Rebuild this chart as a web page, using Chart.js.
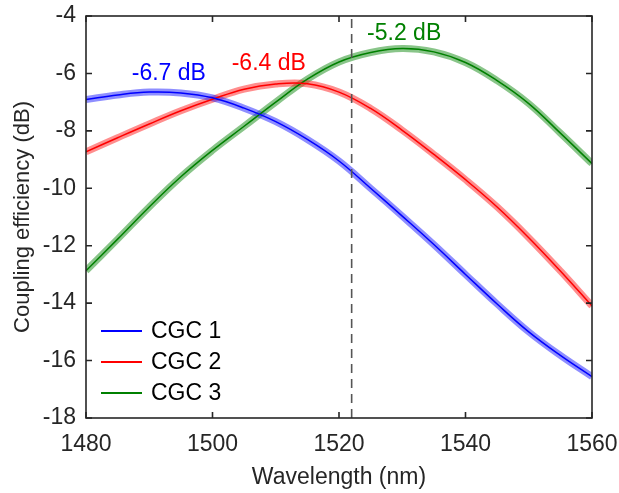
<!DOCTYPE html>
<html>
<head>
<meta charset="utf-8">
<script src="https://cdn.jsdelivr.net/npm/chart.js@4.4.1/dist/chart.umd.min.js"></script>
<style>
  html, body { margin: 0; padding: 0; background: #fff; }
  #wrap { width: 619px; height: 493px; position: relative; }
</style>
</head>
<body>
<div id="wrap"><canvas id="myChart"></canvas></div>
<script>
// values
const wavelength = [1480, 1485, 1490, 1495, 1500, 1505, 1510, 1515, 1520, 1525, 1530, 1535, 1540, 1545, 1550, 1555, 1560];
const cgc1 = [-6.91, -6.75, -6.65, -6.68, -6.85, -7.21, -7.68, -8.30, -9.05, -10.00, -10.97, -11.96, -13.00, -14.03, -15.00, -15.82, -16.56];
const cgc2 = [-8.73, -8.24, -7.76, -7.30, -6.90, -6.55, -6.37, -6.36, -6.65, -7.22, -7.98, -8.82, -9.70, -10.65, -11.72, -12.88, -14.10];
const cgc3 = [-12.87, -11.77, -10.65, -9.60, -8.68, -7.84, -7.00, -6.20, -5.60, -5.27, -5.13, -5.25, -5.62, -6.25, -7.05, -8.08, -9.14];
const seriesLabels = ['CGC 1', 'CGC 2', 'CGC 3'];
const peakLabels = ['-6.7 dB', '-6.4 dB', '-5.2 dB'];
const peakLabelWl = [1493.1, 1508.9, 1530.3];
const peakLabelDb = [-6.02, -5.67, -4.63];
const markerWl = 1522;
const yRange = [-18, -4];
const xRange = [1480, 1560];

(() => {
  'use strict'

  const FONT = "'Liberation Sans', Arial, sans-serif";
  const lineColors = ['#0000ff', '#ff0000', '#008000'];
  const bandColors = ['rgba(30,30,255,0.5)', 'rgba(255,30,30,0.5)', 'rgba(20,140,20,0.5)'];
  const series = [cgc1, cgc2, cgc3];

  const toPoints = vals => wavelength.map((w, i) => ({ x: w, y: vals[i] }));

  const datasets = [];
  // vertical dashed marker
  datasets.push({
    label: 'marker',
    data: [{ x: markerWl, y: yRange[0] }, { x: markerWl, y: yRange[1] }],
    borderColor: '#555555',
    borderWidth: 1.6,
    borderDash: [9, 6],
    pointRadius: 0,
    tension: 0,
    order: 0
  });
  // fitted lines
  series.forEach((s, i) => {
    datasets.push({
      label: seriesLabels[i],
      data: toPoints(s),
      borderColor: lineColors[i],
      borderWidth: 1.5,
      pointRadius: 0,
      tension: 0.4,
      order: 1
    });
  });
  // measured bands (wide, translucent)
  series.forEach((s, i) => {
    datasets.push({
      label: seriesLabels[i] + ' meas',
      data: toPoints(s),
      borderColor: bandColors[i],
      borderWidth: 7,
      pointRadius: 0,
      tension: 0.4,
      order: 2
    });
  });

  const boxPlugin = {
    id: 'box',
    afterDatasetsDraw(chart) {
      const { ctx, chartArea: a, scales: { x, y } } = chart;
      ctx.save();
      ctx.strokeStyle = '#262626';
      ctx.lineWidth = 1.6;
      ctx.strokeRect(a.left, a.top, a.right - a.left, a.bottom - a.top);
      ctx.beginPath();
      x.ticks.forEach(t => {
        const px = x.getPixelForValue(t.value);
        ctx.moveTo(px, a.bottom); ctx.lineTo(px, a.bottom - 6);
        ctx.moveTo(px, a.top); ctx.lineTo(px, a.top + 6);
      });
      y.ticks.forEach(t => {
        const py = y.getPixelForValue(t.value);
        ctx.moveTo(a.left, py); ctx.lineTo(a.left + 6, py);
        ctx.moveTo(a.right, py); ctx.lineTo(a.right - 6, py);
      });
      ctx.stroke();

      // peak annotations
      ctx.font = '23px ' + FONT;
      ctx.textAlign = 'center';
      ctx.textBaseline = 'middle';
      peakLabels.forEach((txt, i) => {
        ctx.fillStyle = lineColors[i];
        ctx.fillText(txt, x.getPixelForValue(peakLabelWl[i]), y.getPixelForValue(peakLabelDb[i]));
      });

      // legend
      ctx.textAlign = 'left';
      seriesLabels.forEach((txt, i) => {
        const ly = a.bottom - 87 + i * 31;
        ctx.strokeStyle = lineColors[i];
        ctx.lineWidth = 2.2;
        ctx.beginPath();
        ctx.moveTo(a.left + 15, ly);
        ctx.lineTo(a.left + 56, ly);
        ctx.stroke();
        ctx.fillStyle = '#000';
        ctx.fillText(txt, a.left + 65, ly + 1);
      });
      ctx.restore();
    }
  };

  const ctx = document.getElementById('myChart');
  new Chart(ctx, {
    type: 'line',
    data: { datasets },
    plugins: [boxPlugin],
    options: {
      responsive: true,
      maintainAspectRatio: false,
      animation: false,
      layout: { padding: { top: 16, right: 27, left: 0, bottom: 0 } },
      plugins: {
        legend: { display: false },
        tooltip: { enabled: false }
      },
      scales: {
        x: {
          type: 'linear',
          min: xRange[0],
          max: xRange[1],
          grid: { display: false, drawTicks: false },
          border: { display: false },
          ticks: { stepSize: 20, padding: 13, color: '#262626', font: { family: FONT, size: 23 }, callback: v => String(v) },
          title: { display: true, text: 'Wavelength (nm)', color: '#262626', padding: { top: 0, bottom: 2 }, font: { family: FONT, size: 23 } },
          afterFit(s) { s.height = 75; s.paddingLeft = 0; s.paddingRight = 0; }
        },
        y: {
          min: yRange[0],
          max: yRange[1],
          grid: { display: false, drawTicks: false },
          border: { display: false },
          ticks: { stepSize: 2, padding: 10, color: '#262626', font: { family: FONT, size: 23 }, callback: v => String(v) },
          title: { display: true, text: 'Coupling efficiency (dB)', color: '#262626', padding: { top: 10, bottom: 10 }, font: { family: FONT, size: 22 } },
          afterFit(s) { s.width = 86; s.paddingTop = 0; s.paddingBottom = 0; }
        }
      }
    }
  });
})()
</script>
</body>
</html>
